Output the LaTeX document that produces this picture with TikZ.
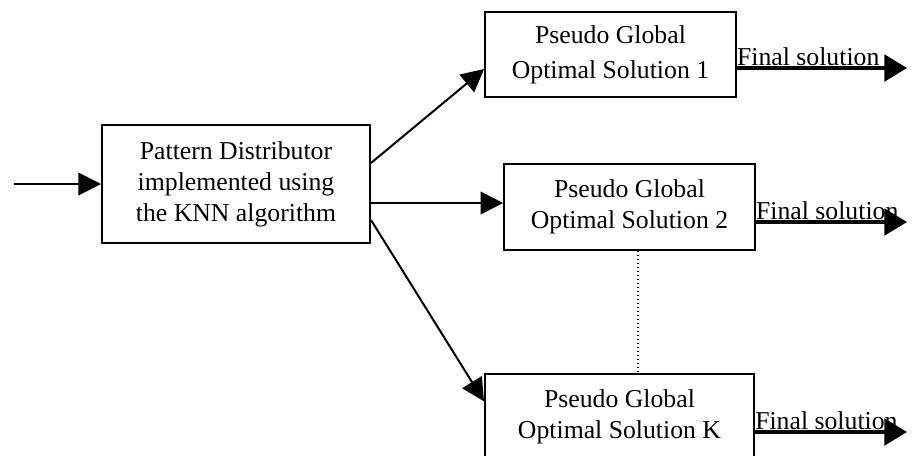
\documentclass[tikz,border=0pt]{standalone}
\usepackage{fontspec}
\setmainfont{Liberation Serif}
\usepackage{tikz}
\usetikzlibrary{arrows.meta, positioning, calc}

\begin{document}
\begin{tikzpicture}[
    x=0.75pt, y=-0.75pt,
    font=\fontsize{19.3pt}{23.3pt}\selectfont,
    box/.style = {rectangle, draw, line width=1.5pt, minimum width=188pt, minimum height=64pt, align=center, inner sep=2pt},
    arrow/.style = {line width=1.5pt, -{Triangle[length=17pt, width=17pt]}},
    outarrow/.style = {line width=2.4pt, -{Triangle[length=17pt, width=20pt]}},
    outlabel/.style = {above right, inner sep=0pt, yshift=1.5pt}
]
\clip (0,0) rectangle (917,455);

% Nodes
\node (dist) [box, minimum width=201pt, minimum height=88.5pt] at (236,184) {Pattern Distributor\\implemented using\\the KNN algorithm};
\node (sol1) [box] at (610.5,54.5) {Pseudo Global\\[3pt]Optimal Solution 1};
\node (sol2) [box, minimum height=64.5pt] at (629.5,207) {Pseudo Global\\Optimal Solution 2};
\node (solk) [box, minimum width=201.75pt] at (619.5,417) {Pseudo Global\\Optimal Solution K};

% Free ends
\coordinate (in) at (14,184);
\coordinate (out1) at (907,68);
\coordinate (out2) at (907,222);
\coordinate (outk) at (907,432);

% Arrows
\draw [arrow] (in) -- (dist.west);
\draw [arrow] ($(dist.east)+(0,-21)$) -- ($(sol1.west)+(0,14.5)$);
\draw [arrow] ($(dist.east)+(0,19)$) -- ($(sol2.west)+(0,-4)$);
\draw [arrow] ($(dist.east)+(0,36)$) -- ($(solk.north west)+(0,28)$);
\draw [line width=1pt, dotted] (sol2.south -| 638,0) -- (solk.north -| 638,0);

% Outputs
\draw [outarrow] ($(sol1.east)+(0,13.5)$) coordinate (s1) -- (out1);
\node [outlabel] at (s1) {Final solution};
\draw [outarrow] ($(sol2.east)+(0,15)$) coordinate (s2) -- (out2);
\node [outlabel] at (s2) {Final solution};
\draw [outarrow] ($(solk.east)+(0,15)$) coordinate (sk) -- (outk);
\node [outlabel] at (sk) {Final solution};

\end{tikzpicture}
\end{document}
